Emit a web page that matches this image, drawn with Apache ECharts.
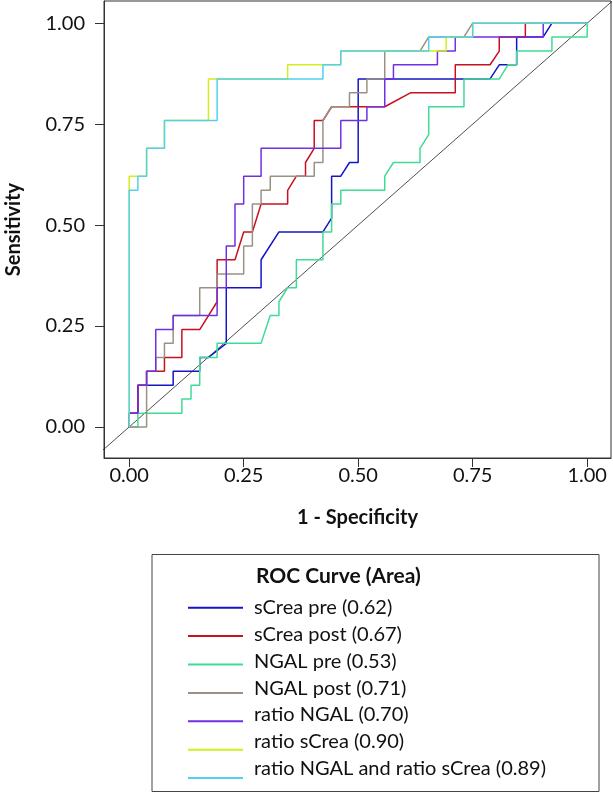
<!DOCTYPE html>
<html><head><meta charset="utf-8">
<script src="https://cdn.jsdelivr.net/npm/echarts@6/dist/echarts.min.js"></script>
<style>html,body{margin:0;padding:0;background:#fff}#c{width:613px;height:798px}</style>
</head><body><div id="c"></div>
<script>
const seriesNames = ['sCrea pre (0.62)','sCrea post (0.67)','NGAL pre (0.53)','NGAL post (0.71)','ratio NGAL (0.70)','ratio sCrea (0.90)','ratio NGAL and ratio sCrea (0.89)'];
const seriesColors = ['#1414c8','#c8101f','#3fdc96','#9a9184','#7030e0','#d2ee1a','#52d0f0'];
const tickValues = [0, 0.25, 0.5, 0.75, 1];
const refLine = [[-0.06,-0.06],[1.06,1.06]];

const sCreaPre = [[0,0],[0,0.034],[0.019,0.034],[0.019,0.103],[0.096,0.103],[0.096,0.138],[0.154,0.138],[0.154,0.172],[0.173,0.172],[0.212,0.207],[0.212,0.345],[0.288,0.345],[0.288,0.414],[0.327,0.483],[0.423,0.483],[0.442,0.517],[0.442,0.621],[0.462,0.621],[0.481,0.655],[0.5,0.655],[0.5,0.862],[0.788,0.862],[0.808,0.897],[0.846,0.897],[0.846,0.966],[0.904,0.966],[0.923,1],[1,1]];
const sCreaPost = [[0,0],[0,0.034],[0.019,0.034],[0.019,0.103],[0.038,0.103],[0.038,0.138],[0.077,0.138],[0.077,0.172],[0.115,0.172],[0.115,0.241],[0.154,0.241],[0.192,0.310],[0.192,0.414],[0.231,0.414],[0.25,0.483],[0.269,0.483],[0.288,0.552],[0.346,0.552],[0.346,0.586],[0.365,0.621],[0.385,0.621],[0.385,0.655],[0.404,0.690],[0.404,0.759],[0.423,0.759],[0.442,0.793],[0.558,0.793],[0.615,0.828],[0.712,0.828],[0.712,0.897],[0.788,0.897],[0.808,0.931],[0.808,0.966],[0.865,0.966],[0.865,1],[1,1]];
const ngalPre = [[0,0],[0.019,0],[0.019,0.034],[0.115,0.034],[0.115,0.069],[0.135,0.069],[0.135,0.103],[0.154,0.103],[0.154,0.172],[0.192,0.172],[0.192,0.207],[0.288,0.207],[0.308,0.276],[0.327,0.276],[0.327,0.310],[0.346,0.345],[0.365,0.345],[0.365,0.414],[0.423,0.414],[0.423,0.483],[0.442,0.483],[0.442,0.552],[0.462,0.552],[0.462,0.586],[0.558,0.586],[0.558,0.621],[0.577,0.655],[0.635,0.655],[0.635,0.690],[0.654,0.724],[0.654,0.793],[0.731,0.793],[0.731,0.862],[0.808,0.862],[0.827,0.897],[0.846,0.897],[0.846,0.931],[0.923,0.931],[0.923,0.966],[1,0.966],[1,1]];
const ngalPost = [[0,0],[0.038,0],[0.038,0.138],[0.058,0.138],[0.058,0.172],[0.077,0.172],[0.077,0.207],[0.096,0.207],[0.096,0.276],[0.154,0.276],[0.154,0.345],[0.192,0.345],[0.192,0.379],[0.25,0.379],[0.25,0.448],[0.269,0.448],[0.269,0.552],[0.288,0.552],[0.288,0.586],[0.308,0.586],[0.308,0.621],[0.404,0.621],[0.404,0.655],[0.423,0.655],[0.423,0.759],[0.442,0.793],[0.481,0.793],[0.481,0.828],[0.519,0.828],[0.519,0.862],[0.558,0.862],[0.558,0.931],[0.635,0.931],[0.654,0.966],[0.731,0.966],[0.75,1],[1,1]];
const ratioNgal = [[0,0],[0,0.034],[0.019,0.034],[0.019,0.103],[0.038,0.103],[0.038,0.138],[0.058,0.138],[0.058,0.241],[0.096,0.241],[0.096,0.276],[0.192,0.276],[0.192,0.345],[0.212,0.345],[0.212,0.448],[0.231,0.448],[0.231,0.552],[0.25,0.552],[0.25,0.621],[0.288,0.621],[0.288,0.690],[0.462,0.690],[0.462,0.759],[0.519,0.759],[0.519,0.793],[0.558,0.793],[0.558,0.862],[0.577,0.862],[0.577,0.897],[0.673,0.897],[0.673,0.931],[0.712,0.931],[0.712,0.966],[0.904,0.966],[0.904,1],[1,1]];
const ratioSCrea = [[0,0],[0,0.621],[0.038,0.621],[0.038,0.690],[0.077,0.690],[0.077,0.759],[0.173,0.759],[0.173,0.862],[0.346,0.862],[0.346,0.897],[0.462,0.897],[0.462,0.931],[0.692,0.931],[0.692,0.966],[0.75,0.966],[0.75,1],[1,1]];
const ratioBoth = [[0,0],[0,0.586],[0.019,0.586],[0.019,0.621],[0.038,0.621],[0.038,0.690],[0.077,0.690],[0.077,0.759],[0.192,0.759],[0.192,0.862],[0.423,0.862],[0.423,0.897],[0.462,0.897],[0.462,0.931],[0.654,0.931],[0.654,0.966],[0.75,0.966],[0.75,1],[1,1]];

const curveData = [sCreaPre, sCreaPost, ngalPre, ngalPost, ratioNgal, ratioSCrea, ratioBoth];
const FONT = 'Lato';
const axisColor = '#333';

const chart = echarts.init(document.getElementById('c'), null, {renderer:'canvas'});
const series = [{
  name:'ref', type:'line', data: refLine, symbol:'none', silent:true, animation:false,
  lineStyle:{color:'#222', width:0.8}, itemStyle:{color:'#222'}, clip:true, z:2
}];
curveData.forEach((d,i)=>{
  series.push({
    name: seriesNames[i], type:'line', data:d, symbol:'none', showSymbol:false, animation:false,
    lineStyle:{color:seriesColors[i], width:1.5}, itemStyle:{color:seriesColors[i]}, clip:true, z:3
  });
});

chart.setOption({
  animation:false,
  backgroundColor:'#fff',
  textStyle:{fontFamily:FONT},
  grid:{left:104, right:2, top:1, bottom:340, show:true, borderColor:axisColor, borderWidth:1, containLabel:false, outerBoundsMode:'none'},
  xAxis:{
    type:'value', min:-0.055, max:1.052,
    axisLine:{show:true, onZero:false, lineStyle:{color:axisColor, width:1}},
    axisTick:{show:true, customValues:tickValues, length:9, lineStyle:{color:axisColor, width:1}},
    axisLabel:{customValues:tickValues, formatter:v=>v.toFixed(2), margin:8, fontFamily:FONT, fontSize:20, color:'#111'},
    splitLine:{show:false},
    name:'1 - Specificity', nameLocation:'middle', nameGap:50,
    nameTextStyle:{fontFamily:FONT, fontWeight:'bold', fontSize:20, color:'#111'}
  },
  yAxis:{
    type:'value', min:-0.077, max:1.055,
    axisLine:{show:true, onZero:false, lineStyle:{color:axisColor, width:1}},
    axisTick:{show:true, customValues:tickValues, length:9, lineStyle:{color:axisColor, width:1}},
    axisLabel:{customValues:tickValues, formatter:v=>v.toFixed(2), margin:19, fontFamily:FONT, fontSize:20, color:'#111'},
    splitLine:{show:false},
    name:'Sensitivity', nameLocation:'middle', nameGap:80, nameRotate:90,
    nameTextStyle:{fontFamily:FONT, fontWeight:'bold', fontSize:20, color:'#111'}
  },
  title:{text:'ROC Curve (Area)', left:256, top:566, padding:0,
    textStyle:{fontFamily:FONT, fontWeight:'bold', fontSize:21, color:'#111'}},
  graphic:[{type:'rect', shape:{x:152, y:554.5, width:447, height:237}, style:{fill:'none', stroke:'#444', lineWidth:1}, silent:true}],
  legend:[
    {data:seriesNames, orient:'vertical', left:188, top:606.7, padding:0, itemWidth:55, itemHeight:2, itemGap:26.4,
     icon:'rect', formatter:()=>'', textStyle:{fontSize:1, lineHeight:1}, selectedMode:false},
    {data:seriesNames, orient:'vertical', left:248, top:595.7, padding:0, itemWidth:1, itemHeight:1, itemGap:2.8,
     icon:'rect', itemStyle:{opacity:0}, textStyle:{fontFamily:FONT, fontSize:20, lineHeight:24, color:'#111'}, selectedMode:false}
  ],
  series:series
});
</script></body></html>
